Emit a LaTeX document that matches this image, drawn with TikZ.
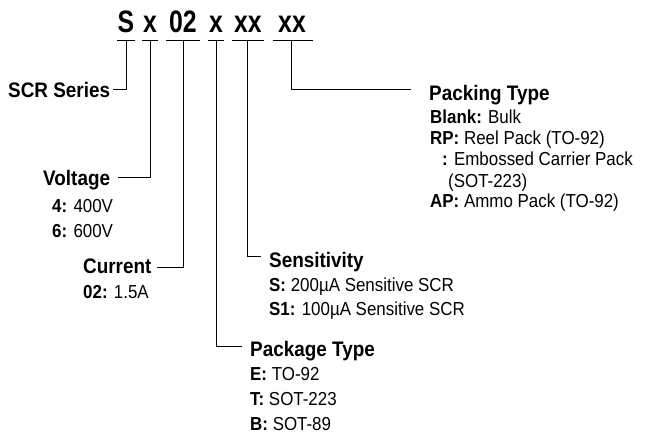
\documentclass[tikz,border=0pt]{standalone}
\usepackage{fontspec}
\setmainfont{Liberation Sans}[FakeStretch=0.9]
\newfontfamily\codefont[FakeStretch=0.8]{Liberation Sans}
\begin{document}
\begin{tikzpicture}[x=1pt,y=-1pt,
  title/.style={font=\bfseries\fontsize{21}{21}\selectfont, anchor=base west, inner sep=0pt},
  item/.style={font=\fontsize{18.8}{18.8}\selectfont, anchor=base west, inner sep=0pt},
  code/.style={font=\codefont\bfseries\fontsize{31}{31}\selectfont, anchor=base, inner sep=0pt},
  conn/.style={line width=1pt, line cap=butt},
  uline/.style={line width=1pt}]
\useasboundingbox (0,0) rectangle (647,439);
% code characters
\node[code] (cS)  at (126,32) {S};
\node[code] (cV)  at (150,32) {x};
\node[code] (cC)  at (183,32) {02};
\node[code] (cP)  at (216,32) {x};
\node[code] (cSe) at (248,32) {xx};
\node[code] (cPk) at (292,32) {xx};
% underlines
\draw[uline] (117,40) -- (135,40);
\draw[uline] (142,40) -- (158,40);
\draw[uline] (166,40) -- (200,40);
\draw[uline] (208,40) -- (224,40);
\draw[uline] (232,40) -- (264,40);
\draw[uline] (273,40) -- (313,40);
\coordinate (uS)  at (126,40);
\coordinate (uV)  at (150.5,40);
\coordinate (uC)  at (183,40);
\coordinate (uP)  at (216,40);
\coordinate (uSe) at (247.5,40);
\coordinate (uPk) at (291,40);
% labels
\node[title] (ser) at (8,97) {SCR Series};
\node[title] (vol) at (43,185) {Voltage};
\node[item] (v4) at (52,212) {\textbf{4:} 400V};
\node[item] (v6) at (52,237) {\textbf{6:} 600V};
\node[title] (cur) at (83,273) {Current};
\node[item] (c02) at (83,298) {\textbf{02:} 1.5A};
\node[title] (sen) at (269,267) {Sensitivity};
\node[item] (s0) at (269,291) {\textbf{S:} 200µA Sensitive SCR};
\node[item] (s1) at (269,315) {\textbf{S1:} 100µA Sensitive SCR};
\node[title] (pkg) at (250,356) {Package Type};
\node[item] (pe) at (250,380) {\textbf{E:} TO-92};
\node[item] (pt) at (250,405) {\textbf{T:} SOT-223};
\node[item] (pb) at (250,430) {\textbf{B:} SOT-89};
\node[title] (pck) at (429,100) {Packing Type};
\node[item] (kb) at (430,123) {\textbf{Blank:} Bulk};
\node[item] (kr) at (430,144) {\textbf{RP:} Reel Pack (TO-92)};
\node[item] (ke) at (442,165) {\textbf{:} Embossed Carrier Pack};
\node[item] (ks) at (448,187) {(SOT-223)};
\node[item] (ka) at (430,207) {\textbf{AP:} Ammo Pack (TO-92)};
% connector ends
\coordinate (eS)  at (113,89);
\coordinate (eV)  at (118,177);
\coordinate (eC)  at (157,267);
\coordinate (eP)  at (242,346);
\coordinate (eSe) at (261,256);
\coordinate (ePk) at (411,89);
% connectors
\draw[conn] (uS)  |- (eS);
\draw[conn] (uV)  |- (eV);
\draw[conn] (uC)  |- (eC);
\draw[conn] (uP)  |- (eP);
\draw[conn] (uSe) |- (eSe);
\draw[conn] (uPk) |- (ePk);
\end{tikzpicture}
\end{document}
